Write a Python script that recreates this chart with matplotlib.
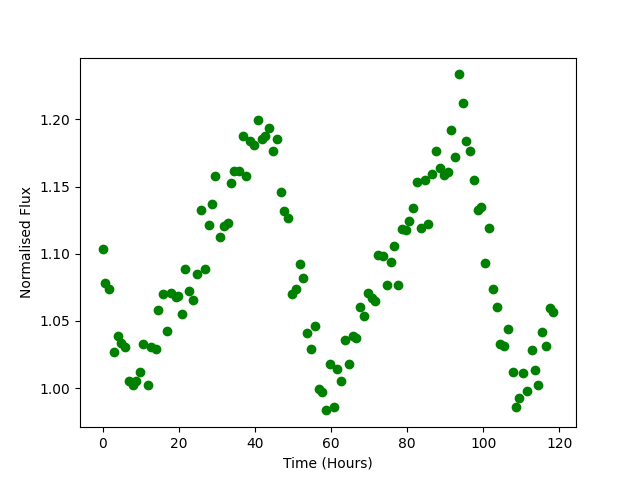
import matplotlib
matplotlib.use("Agg")
import matplotlib.pyplot as plt

# time (hours) and normalised flux
time = [0.0, 0.71, 1.76, 2.89, 3.95, 4.84, 5.89, 6.84, 7.89, 8.79,
        9.74, 10.71, 11.84, 12.74, 14.05, 14.66, 15.79, 16.84, 18.0, 19.32,
        19.74, 20.79, 21.76, 22.82, 23.68, 24.74, 25.79, 26.84, 27.89, 28.68,
        29.66, 30.89, 31.84, 33.0, 33.68, 34.58, 35.79, 36.84, 37.74, 38.6,
        39.66, 40.79, 41.95, 42.63, 43.68, 44.74, 45.79, 46.76, 47.55, 48.68,
        49.74, 50.89, 51.76, 52.63, 53.68, 54.66, 55.89, 56.76, 57.63, 58.6,
        59.66, 60.79, 61.58, 62.63, 63.68, 64.74, 65.79, 66.68, 67.63, 68.68,
        69.74, 70.71, 71.58, 72.47, 73.68, 74.66, 75.71, 76.5, 77.63, 78.74,
        79.74, 80.53, 81.58, 82.63, 83.6, 84.74, 85.53, 86.58, 87.63, 88.6,
        89.66, 90.63, 91.5, 92.63, 93.68, 94.74, 95.53, 96.5, 97.63, 98.68,
        99.47, 100.5, 101.5, 102.63, 103.68, 104.39, 105.53, 106.42, 107.74, 108.6,
        109.47, 110.53, 111.58, 112.74, 113.68, 114.47, 115.53, 116.58, 117.55, 118.42]
flux = [1.1039, 1.0783, 1.0741, 1.0265, 1.0387, 1.0332, 1.0303, 1.0052, 1.0022, 1.0052,
        1.0117, 1.0327, 1.0022, 1.0307, 1.0292, 1.0580, 1.0704, 1.0422, 1.0709, 1.0679,
        1.0689, 1.0555, 1.0883, 1.0721, 1.0659, 1.0853, 1.1329, 1.0883, 1.1217, 1.1373,
        1.1581, 1.1127, 1.1207, 1.1229, 1.1529, 1.1616, 1.1616, 1.1879, 1.1581, 1.1839,
        1.1812, 1.1998, 1.1854, 1.1874, 1.1938, 1.1767, 1.1857, 1.1462, 1.1316, 1.1269,
        1.0697, 1.0741, 1.0927, 1.0816, 1.0407, 1.0288, 1.0459, 0.9990, 0.9972, 0.9834,
        1.0176, 0.9857, 1.0143, 1.0050, 1.0355, 1.0176, 1.0389, 1.0374, 1.0600, 1.0533,
        1.0706, 1.0671, 1.0652, 1.0989, 1.0981, 1.0764, 1.0942, 1.1061, 1.0771, 1.1187,
        1.1180, 1.1245, 1.1344, 1.1537, 1.1195, 1.1552, 1.1225, 1.1596, 1.1767, 1.1636,
        1.1589, 1.1606, 1.1923, 1.1723, 1.2335, 1.2124, 1.1842, 1.1767, 1.1552, 1.1326,
        1.1346, 1.0929, 1.1195, 1.0741, 1.0607, 1.0325, 1.0315, 1.0439, 1.0121, 0.9861,
        0.9923, 1.0109, 0.9975, 1.0280, 1.0132, 1.0020, 1.0414, 1.0310, 1.0593, 1.0567]

fig, ax = plt.subplots(figsize=(6.4, 4.8), dpi=100)
ax.plot(time, flux, 'o', color='green')
ax.set_xlabel('Time (Hours)')
ax.set_ylabel('Normalised Flux')
fig.savefig('out.png')
